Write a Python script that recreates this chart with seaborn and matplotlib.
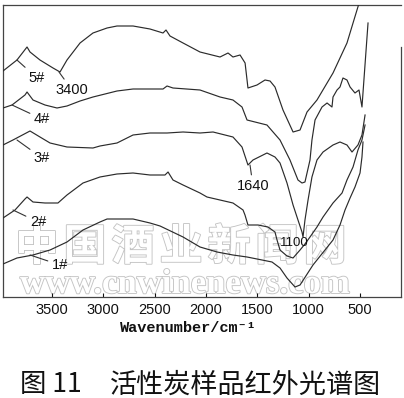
import numpy as np
import pandas as pd
import seaborn as sns
import matplotlib
import matplotlib.pyplot as plt
import matplotlib.patheffects as pe
matplotlib.use('Agg')

# IR spectra of five activated carbon samples (wavenumber in cm-1, relative transmittance)
wn_5 = [3977, 3841, 3743, 3714, 3617, 3490, 3422, 3354, 3227, 3101,
        2964, 2867, 2711, 2546, 2419, 2390, 2351, 2224, 2059, 1864,
        1786, 1738, 1669, 1620, 1592, 1504, 1426, 1377, 1329, 1251,
        1153, 1085, 1017, 920, 764, 628, 569, 492]
t_5 = [226, 237, 250, 245, 237, 229, 225, 237, 254, 264,
       269, 271, 271, 268, 264, 267, 261, 254, 245, 240,
       244, 240, 242, 234, 209, 212, 217, 216, 210, 187,
       165, 167, 185, 197, 224, 254, 274, 300]

wn_4 = [3977, 3889, 3763, 3743, 3685, 3568, 3451, 3354, 3227, 3101,
        2867, 2711, 2419, 2380, 2322, 2059, 1864, 1738, 1650, 1601,
        1407, 1280, 1183, 1105, 1066, 1037, 988, 969, 939, 871,
        822, 774, 764, 725, 696, 667, 628, 598, 550, 511,
        482, 423]
t_4 = [189, 192, 202, 205, 197, 192, 189, 191, 196, 200,
       206, 208, 208, 211, 209, 207, 200, 197, 190, 177,
       172, 157, 137, 117, 114, 115, 137, 157, 177, 190,
       194, 190, 200, 207, 210, 219, 217, 210, 204, 207,
       190, 274]

wn_3 = [3977, 3880, 3714, 3617, 3519, 3354, 3101, 3033, 2867, 2711,
        2546, 2380, 2224, 2059, 1932, 1738, 1650, 1592, 1543, 1407,
        1329, 1280, 1212, 1153, 1105, 1066, 1056, 1037, 1007, 969,
        920, 861, 764, 696, 628, 579, 521, 482, 452]
t_3 = [152, 157, 166, 160, 154, 150, 149, 151, 154, 162,
       164, 164, 165, 164, 165, 160, 150, 132, 137, 144,
       140, 134, 114, 92, 77, 65, 60, 77, 97, 120,
       137, 145, 152, 155, 152, 145, 152, 162, 182]

wn_2 = [3977, 3860, 3763, 3743, 3685, 3568, 3442, 3354, 3198, 3033,
        2867, 2711, 2546, 2400, 2370, 2322, 2224, 2059, 1991, 1738,
        1640, 1621, 1592, 1494, 1397, 1329, 1309, 1280, 1212, 1153,
        1085, 1037, 988, 920, 861, 764, 676, 628, 569, 521,
        482, 452]
t_2 = [79, 87, 98, 100, 95, 94, 94, 102, 114, 120,
       123, 124, 122, 122, 125, 117, 112, 104, 100, 94,
       87, 82, 72, 72, 70, 65, 57, 47, 41, 39,
       47, 53, 60, 70, 80, 94, 104, 117, 130, 147,
       157, 172]

wn_1 = [3977, 3841, 3685, 3519, 3354, 3198, 3033, 2964, 2711, 2546,
        2448, 2224, 2059, 1893, 1738, 1601, 1455, 1358, 1280, 1212,
        1134, 1085, 959, 842, 764, 696, 647, 598, 550, 501,
        482, 472]
t_1 = [33, 39, 42, 47, 55, 67, 75, 78, 78, 74,
       71, 60, 50, 45, 42, 40, 37, 35, 29, 19,
       10, 12, 32, 47, 57, 72, 87, 99, 110, 124,
       140, 155]

xticks = [3500, 3000, 2500, 2000, 1500, 1000, 500]

# curve labels: text, point on curve, text position
label_text = ['5#', '3400', '4#', '3#', '2#', '1#', '1640']
label_xy = [(3841, 237), (3432, 225), (3889, 192), (3841, 157), (3880, 87), (3714, 42), (1572, 132)]
label_pos = [(3646, 219), (3305, 207), (3597, 178), (3597, 139), (3636, 75), (3422, 32), (1543, 111)]

plt.rcParams['font.family'] = ['Liberation Sans', 'DejaVu Sans']

fig = plt.figure(figsize=(4.04, 3.98), dpi=100)
ax = fig.add_axes([3 / 404, 1 - 297 / 398, 398 / 404, 292 / 398])

# watermark behind the spectra
wm = '中国酒业新闻网'
for i, ch in enumerate(wm):
    ax.text((37 + 48 * i) / 404, 1 - 247 / 398, ch, transform=fig.transFigure,
            ha='center', va='center', fontsize=31, fontweight='bold',
            family=['Noto Sans CJK SC'], color='white', zorder=1,
            path_effects=[pe.withStroke(linewidth=1.3, foreground='#c4c4c4')])
ax.text(20 / 404, 1 - 293 / 398, 'www.cnwinenews.com', transform=fig.transFigure,
        ha='left', va='baseline', fontsize=25, fontweight='bold',
        family=['Liberation Serif'], color='white', zorder=1,
        path_effects=[pe.withStroke(linewidth=1.3, foreground='#c4c4c4')])

series = [(wn_1, t_1), (wn_2, t_2), (wn_3, t_3), (wn_4, t_4), (wn_5, t_5)]
for wn, t in series:
    df = pd.DataFrame({'wavenumber': wn, 'T': t})
    sns.lineplot(data=df, x='wavenumber', y='T', sort=False, estimator=None,
                 color='#2b2b2b', lw=0.85, ax=ax, zorder=3)

for txt, xy, pos in zip(label_text, label_xy, label_pos):
    ax.annotate(txt, xy=xy, xytext=pos, ha='center', va='center', fontsize=10.5,
                color='#111111', zorder=4,
                arrowprops=dict(arrowstyle='-', lw=0.8, color='#333333',
                                shrinkA=1, shrinkB=0))
ax.text(1144, 54, '1100', ha='center', va='center', fontsize=9.5, color='#111111', zorder=4)

ax.set_xlim(3977, 102)
ax.set_ylim(0, 292)
ax.set_xticks(xticks)
ax.set_xticklabels([str(v) for v in xticks])
ax.set_yticks([])
ax.tick_params(axis='x', direction='in', length=3, width=0.8, pad=4,
               labelsize=10.5, colors='#111111')
ax.set_xlabel('')
ax.set_ylabel('')
for s in ax.spines.values():
    s.set_color('#444444')
    s.set_linewidth(0.9)
ax.spines['right'].set_bounds(0, 250)

fig.text(188 / 404, 1 - 328 / 398, 'Wavenumber/cm⁻¹', ha='center', va='center',
         fontsize=11, fontweight='bold', family=['Liberation Mono', 'DejaVu Sans Mono'],
         color='#111111')

fig.text(20 / 404, 1 - 385 / 398, '图 11', ha='left', va='center', fontsize=19,
         fontweight='light', family=['Noto Sans CJK SC', 'DejaVu Sans'], color='#111111')
fig.text(110 / 404, 1 - 385 / 398, '活性炭样品红外光谱图', ha='left', va='center',
         fontsize=19.5, fontweight='light', family=['Noto Sans CJK SC', 'DejaVu Sans'],
         color='#111111')

fig.savefig('out.png', dpi=100, facecolor='white')
